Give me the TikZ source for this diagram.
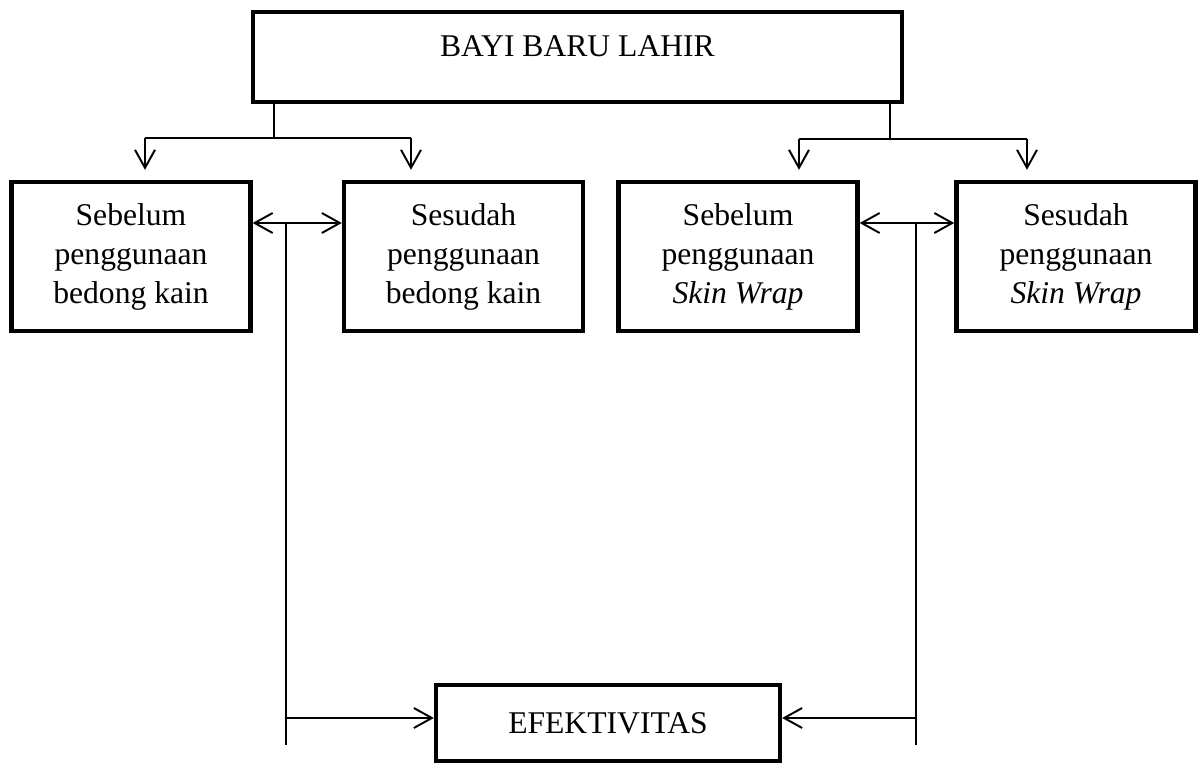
\documentclass[tikz,border=0pt]{standalone}
\usepackage{fontspec}
\setmainfont{Liberation Serif}
\usetikzlibrary{arrows.meta, positioning}

\begin{document}
\begin{tikzpicture}[x=0.02cm, y=-0.02cm, font=\fontsize{18}{22.2}\selectfont]
        % Define block styles
        \tikzstyle{block} = [rectangle, draw=black, line width=2.5pt, minimum width=4.78cm, minimum height=2.98cm, inner sep=0pt, align=center]
        \tikzstyle{wire} = [draw, line width=1.1pt]
        \tikzstyle{line} = [wire, -{Straight Barb[length=3.6mm, width=4mm]}]
        \tikzstyle{twoway} = [wire, {Straight Barb[length=3.6mm, width=4mm]}-{Straight Barb[length=3.6mm, width=4mm]}]

        \useasboundingbox (0,0) rectangle (1198,766);

        % Define nodes
        \node [block, minimum width=12.98cm, minimum height=1.8cm, text height=0.9cm, text depth=0.9cm] (bayi) at (577.5,57) {BAYI BARU LAHIR};
        \node [block] (sebkain) at (131,256.5) {Sebelum\\ penggunaan\\ bedong kain};
        \node [block] (seskain) at (463.5,256.5) {Sesudah\\ penggunaan\\ bedong kain};
        \node [block] (sebwrap) at (738,256.5) {Sebelum\\ penggunaan\\ \textit{Skin Wrap}};
        \node [block] (seswrap) at (1076,256.5) {Sesudah\\ penggunaan\\ \textit{Skin Wrap}};
        \node [block, minimum width=6.88cm, minimum height=1.52cm] (efek) at (608,723) {EFEKTIVITAS};

        % Branch points
        \coordinate (lsplit) at (274,138);
        \coordinate (rsplit) at (890,139);
        \coordinate (in1) at ([xshift=0.28cm]sebkain.north);
        \coordinate (in2) at ([xshift=-1.05cm]seskain.north);
        \coordinate (in3) at ([xshift=1.22cm]sebwrap.north);
        \coordinate (in4) at ([xshift=-0.98cm]seswrap.north);
        \coordinate (lmid) at (286,223);
        \coordinate (lend) at (286,745);
        \coordinate (lfeed) at (286,718);
        \coordinate (rmid) at (916,223);
        \coordinate (rend) at (916,745);
        \coordinate (rfeed) at (916,718);

        % Connect nodes with paths
        \path [wire] (bayi.south -| lsplit) -- (lsplit);
        \path [wire] (in1 |- lsplit) -- (in2 |- lsplit);
        \path [line, shorten >=0.2cm] (in1 |- lsplit) -- (in1);
        \path [line, shorten >=0.2cm] (in2 |- lsplit) -- (in2);

        \path [wire] (bayi.south -| rsplit) -- (rsplit);
        \path [wire] (in3 |- rsplit) -- (in4 |- rsplit);
        \path [line, shorten >=0.2cm] (in3 |- rsplit) -- (in3);
        \path [line, shorten >=0.2cm] (in4 |- rsplit) -- (in4);

        \path [twoway] (sebkain.east |- lmid) -- (seskain.west |- lmid);
        \path [twoway] (sebwrap.east |- rmid) -- (seswrap.west |- rmid);

        \path [wire] (lmid) -- (lend);
        \path [wire] (rmid) -- (rend);
        \path [line] (lfeed) -- (efek.west |- lfeed);
        \path [line] (rfeed) -- (efek.east |- rfeed);

    \end{tikzpicture}
\end{document}
